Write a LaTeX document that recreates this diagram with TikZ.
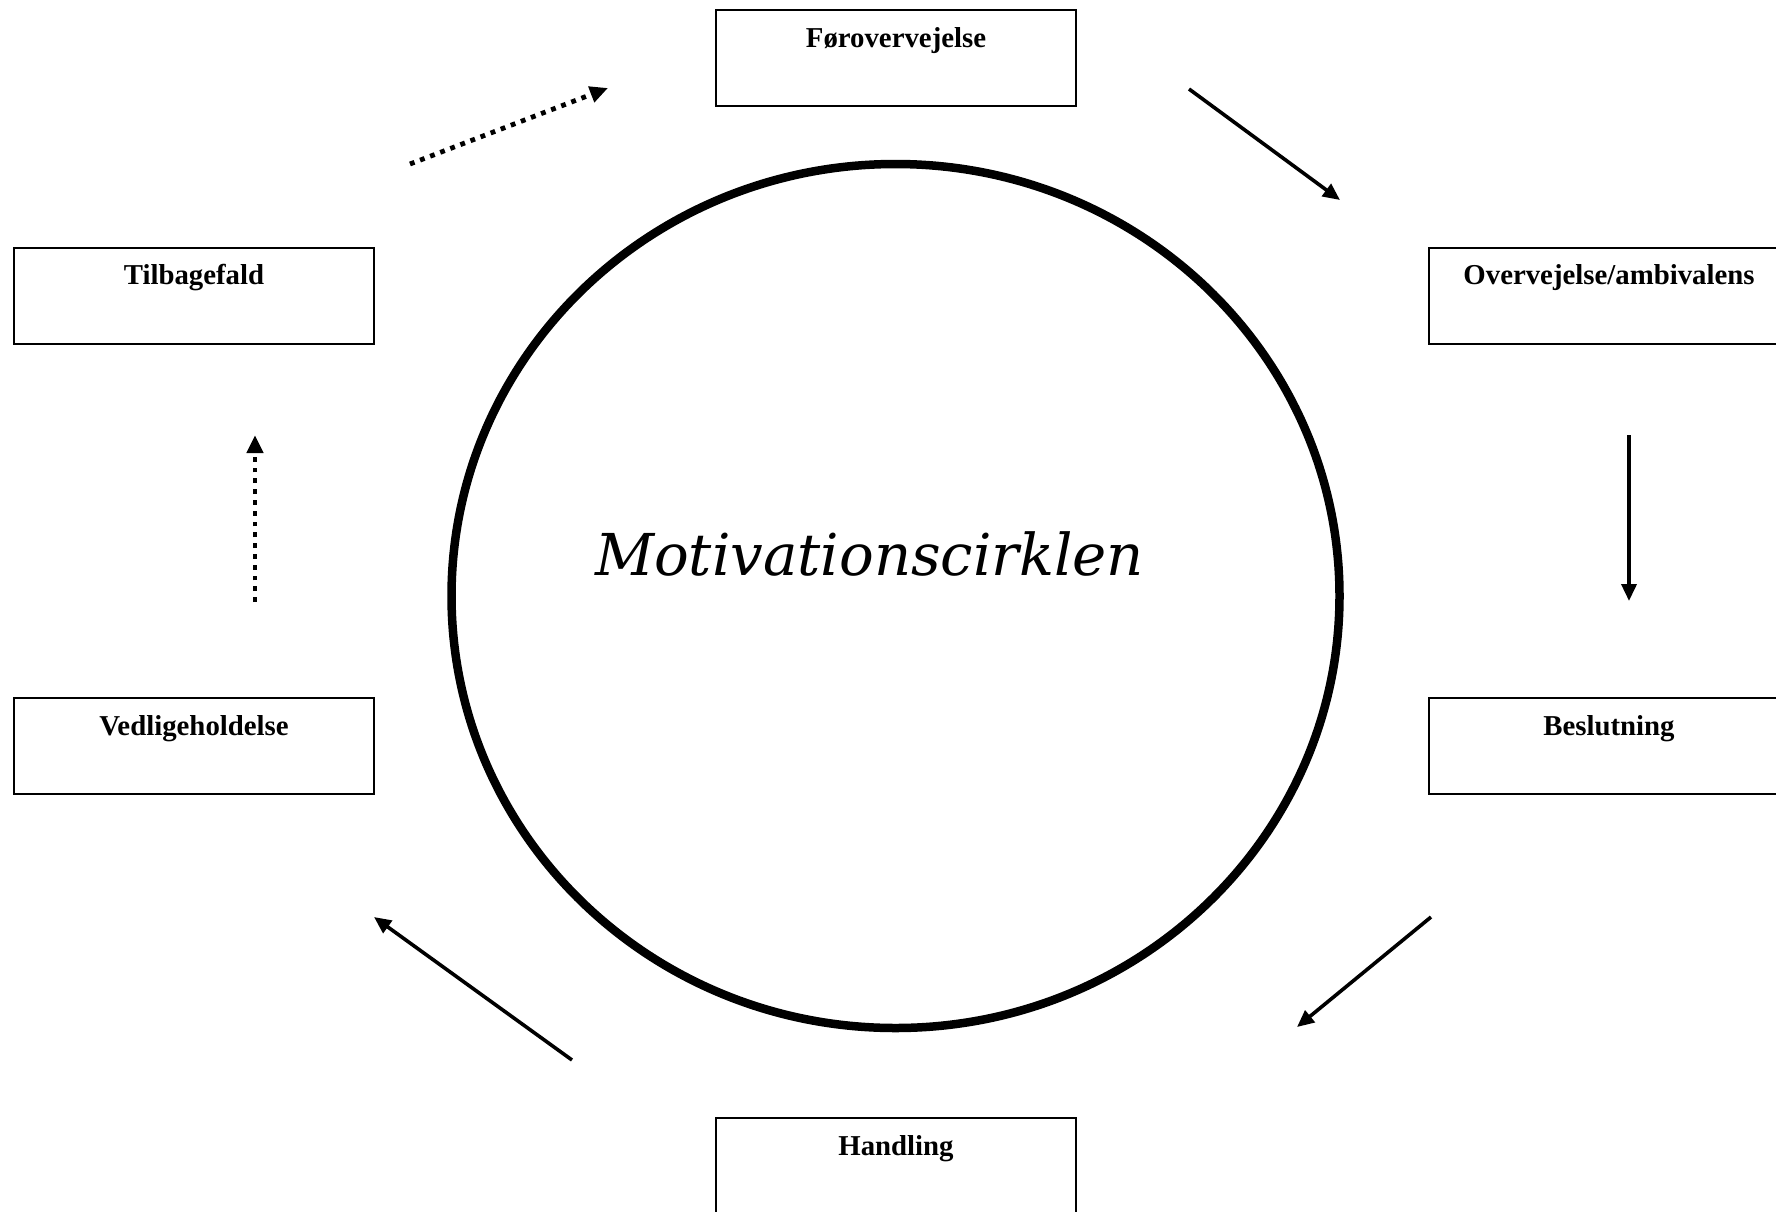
\documentclass[tikz,border=0pt]{standalone}
\usepackage{fontspec}
\setmainfont{Liberation Serif}
\newfontfamily\titlefont{DejaVu Serif}
\usetikzlibrary{arrows.meta}
\begin{document}
\begin{tikzpicture}[x=1pt,y=-1pt,
  stage/.style={draw, line width=2pt, minimum width=360pt, inner xsep=0pt, inner ysep=0pt,
    text height=37pt, text depth=59pt, font=\fontsize{28.8}{34}\selectfont\bfseries},
  flow/.style={line width=3.6pt, -{Triangle[length=17pt,width=15pt]}},
  relapse/.style={line width=4.8pt, dash pattern=on 4.8pt off 6pt, -{Triangle[length=18pt,width=16pt]}}]
  \useasboundingbox (0,0) rectangle (1776,1211);
  \fill[white] (0,0) rectangle (1776,1211);

  % central circle and title
  \draw[line width=8.5pt] (895.5,596) ellipse [x radius=444, y radius=432];
  \node[anchor=base, inner sep=0pt] (title) at (869.5,575)
    {\resizebox{549pt}{!}{\titlefont\itshape\fontsize{56}{64}\selectfont Motivationscirklen}};

  % stages of change
  \node[stage] (pre)   at (896,58)    {Førovervejelse};
  \node[stage] (cont)  at (1609,295.5) {Overvejelse/ambivalens};
  \node[stage] (dec)   at (1609,746)  {Beslutning};
  \node[stage] (act)   at (896,1166)  {Handling};
  \node[stage] (maint) at (194,746)   {Vedligeholdelse};
  \node[stage] (lapse) at (194,295.5) {Tilbagefald};

  % arrow end points
  \coordinate (a1s) at (1189,89);   \coordinate (a1e) at (1340,200);
  \coordinate (a2s) at (1629,435);  \coordinate (a2e) at (1629,601);
  \coordinate (a3s) at (1431,917);  \coordinate (a3e) at (1297,1027);
  \coordinate (a4s) at (572,1060);  \coordinate (a4e) at (374,917);
  \coordinate (a5s) at (255,602);   \coordinate (a5e) at (255,435);
  \coordinate (a6s) at (410,164);   \coordinate (a6e) at (608,88);

  \draw[flow] (a1s) -- (a1e);
  \draw[flow] (a2s) -- (a2e);
  \draw[flow] (a3s) -- (a3e);
  \draw[flow] (a4s) -- (a4e);
  \draw[relapse] (a5s) -- (a5e);
  \draw[relapse] (a6s) -- (a6e);
\end{tikzpicture}
\end{document}
